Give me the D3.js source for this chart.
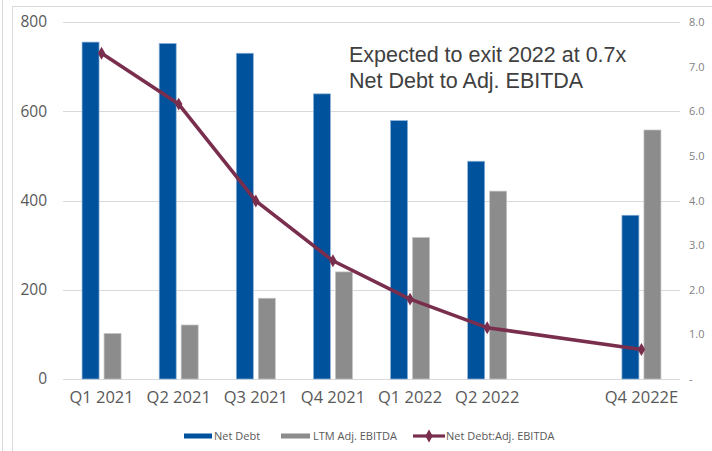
<!DOCTYPE html>
<html><head><meta charset="utf-8">
<script src="https://cdn.jsdelivr.net/npm/d3@7"></script>
<style>body{margin:0;background:#fff;} svg{display:block;}</style>
</head><body><svg id="c" width="712" height="451"></svg>
<script>
const categories = ["Q1 2021","Q2 2021","Q3 2021","Q4 2021","Q1 2022","Q2 2022","","Q4 2022E"];
const netDebt = [755, 752, 730, 639, 579, 488, null, 367];
const ltmEbitda = [102, 121, 181, 240, 317, 421, null, 558];
const leverage = [7.30, 6.16, 3.99, 2.65, 1.79, 1.15, null, 0.66];
const leftTicks = [0, 200, 400, 600, 800];
const rightTicks = [0,1,2,3,4,5,6,7,8];
const annotation = ["Expected to exit 2022 at 0.7x", "Net Debt to Adj. EBITDA"];
const legendItems = ["Net Debt", "LTM Adj. EBITDA", "Net Debt:Adj. EBITDA"];

const svg = d3.select("#c");
const BLUE = "#00529C", GRAY = "#8C8C8C", LINE = "#7A2E4E";
const m = {left:63, right:680, top:22, bottom:379};

// frame
svg.append("line").attr("x1",2.5).attr("x2",2.5).attr("y1",0).attr("y2",451).attr("stroke","#d9d9d9");
svg.append("rect").attr("x",12.5).attr("y",6.5).attr("width",720).attr("height",460)
  .attr("fill","none").attr("stroke","#d9d9d9");

const x = d3.scaleBand().domain(d3.range(categories.length)).range([m.left, m.right]).padding(0);
const yL = d3.scaleLinear().domain([0,800]).range([m.bottom, m.top]);
const yR = d3.scaleLinear().domain([0,8]).range([m.bottom, m.top]);

// gridlines
svg.append("g").selectAll("line").data(leftTicks).join("line")
  .attr("x1",m.left).attr("x2",m.right)
  .attr("y1",d=>Math.round(yL(d))+0.5).attr("y2",d=>Math.round(yL(d))+0.5)
  .attr("stroke","#d9d9d9").attr("stroke-width",1.2);

// left axis
const axL = svg.append("g").attr("transform",`translate(${m.left},0)`)
  .call(d3.axisLeft(yL).tickValues(leftTicks).tickSize(0).tickPadding(16));
axL.select(".domain").remove();
axL.selectAll("text").attr("font-family","'Open Sans', sans-serif").attr("font-size",15.5).attr("fill","#595959");

// right axis
const axR = svg.append("g").attr("transform",`translate(${m.right},0)`)
  .call(d3.axisRight(yR).tickValues(rightTicks).tickSize(0).tickPadding(9)
    .tickFormat(d=> d===0 ? "-" : d3.format(".1f")(d)));
axR.select(".domain").remove();
axR.selectAll("text").attr("font-family","'Open Sans', sans-serif").attr("font-size",11).attr("fill","#7f7f7f");

// x axis labels
const axB = svg.append("g").attr("transform",`translate(0,${m.bottom})`)
  .call(d3.axisBottom(x).tickSize(0).tickPadding(12).tickFormat(i=>categories[i]));
axB.select(".domain").remove();
axB.selectAll("text").attr("font-family","'Open Sans', sans-serif").attr("font-size",16.5).attr("fill","#595959");

// bars
const bw = 17, gap = 5;
const idx = d3.range(categories.length);
svg.append("g").selectAll("rect").data(idx.filter(i=>netDebt[i]!=null)).join("rect")
  .attr("x",i=>x(i)+x.bandwidth()/2 - gap/2 - bw).attr("width",bw)
  .attr("y",i=>yL(netDebt[i])).attr("height",i=>yL(0)-yL(netDebt[i]))
  .attr("fill",BLUE).attr("stroke","#8fb3d9").attr("stroke-width",0.7);
svg.append("g").selectAll("rect").data(idx.filter(i=>ltmEbitda[i]!=null)).join("rect")
  .attr("x",i=>x(i)+x.bandwidth()/2 + gap/2).attr("width",bw)
  .attr("y",i=>yL(ltmEbitda[i])).attr("height",i=>yL(0)-yL(ltmEbitda[i]))
  .attr("fill",GRAY).attr("stroke","#c4c4c4").attr("stroke-width",0.7);

// line
const pts = idx.filter(i=>leverage[i]!=null);
const line = d3.line().x(i=>x(i)+x.bandwidth()/2).y(i=>yR(leverage[i]));
svg.append("path").datum(pts).attr("d",line).attr("fill","none")
  .attr("stroke",LINE).attr("stroke-width",3.6).attr("stroke-linejoin","round");
const diamond = d3.symbol().type(d3.symbolDiamond).size(48);
svg.append("g").selectAll("path").data(pts).join("path")
  .attr("transform",i=>`translate(${x(i)+x.bandwidth()/2},${yR(leverage[i])})`)
  .attr("d",diamond).attr("fill",LINE);

// annotation
svg.append("text").attr("font-family","'Liberation Sans', Arial, sans-serif").attr("font-size",21.5)
  .attr("fill","#404040")
  .selectAll("tspan").data(annotation).join("tspan")
  .attr("x",349).attr("y",(d,i)=>62+i*26).text(d=>d);

// legend
const lg = svg.append("g").attr("font-family","'Open Sans', sans-serif").attr("font-size",11).attr("fill","#595959");
const ly = 436;
lg.append("rect").attr("x",184).attr("y",ly-2.5).attr("width",28).attr("height",5).attr("fill",BLUE);
lg.append("text").attr("x",214).attr("y",ly+4).text(legendItems[0]);
lg.append("rect").attr("x",281).attr("y",ly-2.5).attr("width",29).attr("height",5).attr("fill",GRAY);
lg.append("text").attr("x",313).attr("y",ly+4).text(legendItems[1]);
lg.append("line").attr("x1",413).attr("x2",445).attr("y1",ly).attr("y2",ly).attr("stroke",LINE).attr("stroke-width",3.2);
lg.append("path").attr("transform",`translate(429,${ly})`).attr("d",diamond).attr("fill",LINE);
lg.append("text").attr("x",446).attr("y",ly+4).text(legendItems[2]);
</script></body></html>
